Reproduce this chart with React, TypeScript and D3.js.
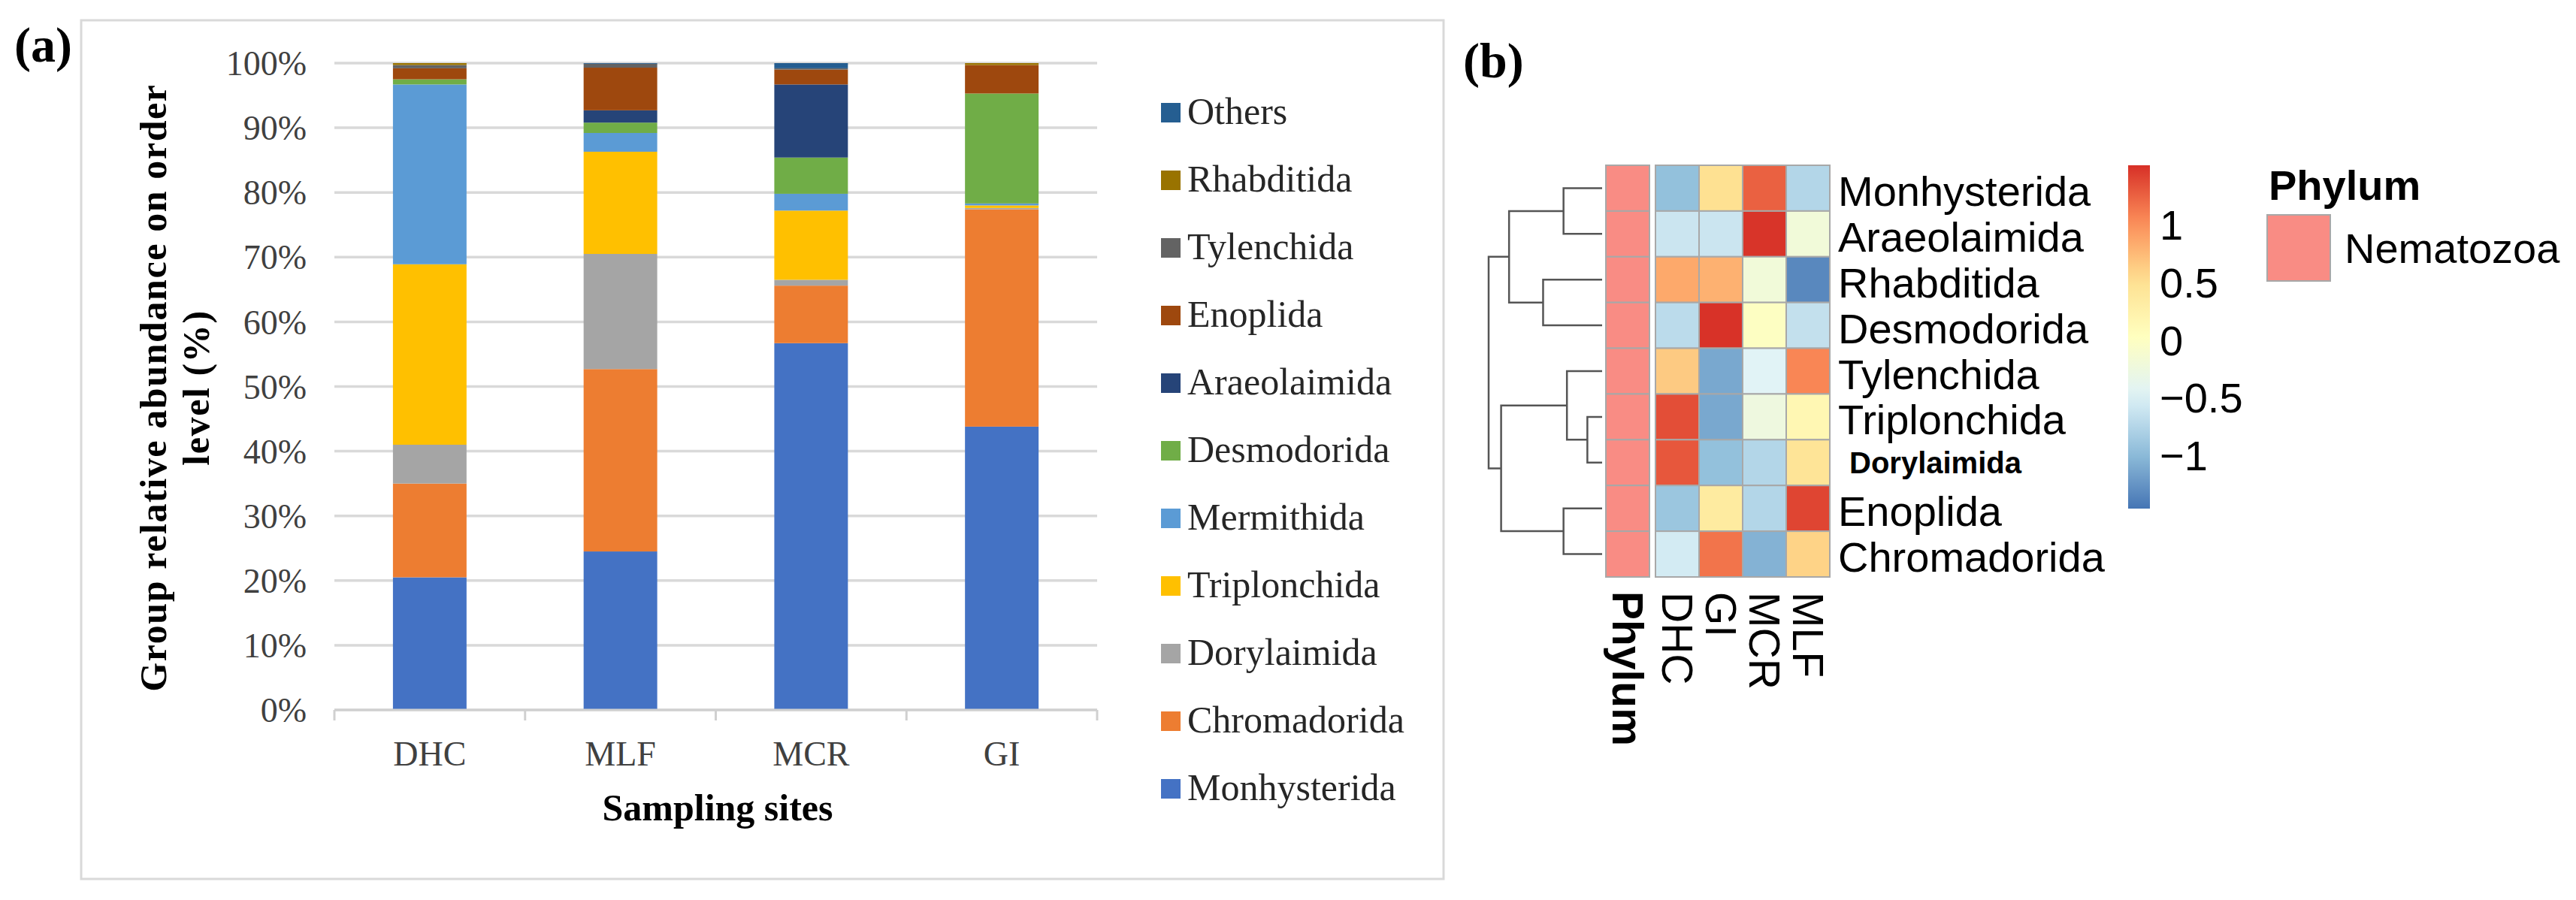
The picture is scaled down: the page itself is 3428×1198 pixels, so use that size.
import React from 'react';
import * as d3 from 'd3';

// ---- panel (a): relative abundance per sampling site (%) ----
const sites = ['DHC', 'MLF', 'MCR', 'GI'];
// stacking order, bottom to top
const orders = [
  'Monhysterida', 'Chromadorida', 'Dorylaimida', 'Triplonchida', 'Mermithida',
  'Desmodorida', 'Araeolaimida', 'Enoplida', 'Tylenchida', 'Rhabditida', 'Others'
];
const orderColors = [
  '#4472C4', '#ED7D31', '#A5A5A5', '#FFC000', '#5B9BD5',
  '#70AD47', '#264478', '#9E480E', '#636363', '#997300', '#255E91'
];
const dhcValues = [20.5, 14.5, 6.0, 27.9, 27.8, 0.8, 0, 1.7, 0.5, 0.3, 0];
const mlfValues = [24.5, 28.2, 17.8, 15.8, 2.9, 1.6, 1.9, 6.6, 0.6, 0, 0.1];
const mcrValues = [56.7, 8.9, 0.9, 10.7, 2.6, 5.6, 11.3, 2.3, 0.2, 0, 0.8];
const giValues = [43.8, 33.6, 0.2, 0.4, 0.3, 17.0, 0, 4.4, 0, 0.3, 0];
const percentTicks = [0, 10, 20, 30, 40, 50, 60, 70, 80, 90, 100];

// ---- panel (b): row-scaled heatmap ----
const heatRows = [
  'Monhysterida', 'Araeolaimida', 'Rhabditida', 'Desmodorida', 'Tylenchida',
  'Triplonchida', 'Dorylaimida', 'Enoplida', 'Chromadorida'
];
const heatCols = ['DHC', 'GI', 'MCR', 'MLF'];
const zDHC = [-0.95, -0.6, 0.85, -0.7, 0.65, 1.35, 1.3, -0.9, -0.55];
const zGI = [0.5, -0.6, 0.8, 1.5, -1.12, -1.12, -0.95, 0.35, 1.15];
const zMCR = [1.25, 1.49, -0.2, 0.0, -0.45, -0.25, -0.75, -0.75, -1.05];
const zMLF = [-0.75, -0.2, -1.33, -0.65, 1.05, 0.15, 0.45, 1.4, 0.6];
const keyDomain = [-1.46, 1.51];
const legendTicks = [-1, -0.5, 0, 0.5, 1];
// hclust-style merges: negative = leaf (1-based row), positive = earlier merge
const mergePairs = [[-6, -7], [-5, 1], [-1, -2], [-8, -9], [-3, -4], [3, 5], [2, 4], [6, 7]];
const mergeHeights = [0.13, 0.31, 0.34, 0.34, 0.52, 0.82, 0.89, 1.0];
const palette = ['#4575B4', '#91BFDB', '#E0F3F8', '#FFFFBF', '#FEE090', '#FC8D59', '#D73027'];
const phylumName = 'Nematozoa';
const phylumColor = '#F98C84';

const SERIF = '"Liberation Serif", "Times New Roman", serif';
const SANS = '"Liberation Sans", Arial, sans-serif';

const W = 3428;
const H = 1198;

const StackedBars: React.FC = () => {
  const siteValues = [dhcValues, mlfValues, mcrValues, giValues];
  const rows = sites.map((s, i) => {
    const r: any = { site: s };
    orders.forEach((o, j) => { r[o] = siteValues[i][j]; });
    return r;
  });
  const series = d3.stack<any>().keys(orders)(rows);

  const x = d3.scaleBand().domain(sites).range([445, 1460]).paddingInner(0.614).paddingOuter(0.307);
  const y = d3.scaleLinear().domain([0, 100]).range([945, 84]);
  const step = x.step();
  const color = d3.scaleOrdinal<string, string>().domain(orders).range(orderColors);

  const legendOrder = orders.slice().reverse();

  return (
    <g>
      {/* chart area border */}
      <rect x={108} y={27} width={1813} height={1143} fill="#fff" stroke="#D9D9D9" strokeWidth={3} />
      <text x={19} y={82} fontFamily={SERIF} fontWeight="bold" fontSize={66}>(a)</text>

      {/* gridlines */}
      {percentTicks.map(t => (
        <line key={t} x1={445} x2={1460} y1={y(t)} y2={y(t)} stroke="#D9D9D9" strokeWidth={3.5} />
      ))}
      {percentTicks.map(t => (
        <text key={'l' + t} x={408} y={y(t)} dy="0.35em" textAnchor="end"
          fontFamily={SERIF} fontSize={46} fill="#404040">{t}%</text>
      ))}

      {/* bars */}
      {series.map(s => (
        <g key={s.key} fill={color(s.key)}>
          {s.map(d => (
            <rect key={d.data.site} x={x(d.data.site)} width={x.bandwidth()}
              y={y(d[1])} height={Math.max(0, y(d[0]) - y(d[1]))} />
          ))}
        </g>
      ))}

      {/* x axis */}
      <line x1={445} x2={1460} y1={y(0)} y2={y(0)} stroke="#D0D0D0" strokeWidth={3} />
      {d3.range(sites.length + 1).map(i => (
        <line key={i} x1={445 + i * step} x2={445 + i * step} y1={y(0)} y2={y(0) + 14}
          stroke="#D0D0D0" strokeWidth={3} />
      ))}
      {sites.map(s => (
        <text key={s} x={(x(s) || 0) + x.bandwidth() / 2} y={1019} textAnchor="middle"
          fontFamily={SERIF} fontSize={46} fill="#404040">{s}</text>
      ))}
      <text x={955} y={1092} textAnchor="middle" fontFamily={SERIF} fontWeight="bold" fontSize={50}>
        Sampling sites
      </text>

      {/* y title */}
      <text transform="translate(221,516) rotate(-90)" textAnchor="middle" fontFamily={SERIF}
        fontWeight="bold" fontSize={50} letterSpacing={1.6}>
        Group relative abundance on order
      </text>
      <text transform="translate(278,516) rotate(-90)" textAnchor="middle" fontFamily={SERIF}
        fontWeight="bold" fontSize={50} letterSpacing={1.6}>
        level (%)
      </text>

      {/* legend */}
      {legendOrder.map((o, i) => (
        <g key={o} transform={`translate(1545, ${150 + i * 90})`}>
          <rect x={0} y={-13} width={26} height={26} fill={color(o)} />
          <text x={35} y={15} fontFamily={SERIF} fontSize={50} fill="#262626">{o}</text>
        </g>
      ))}
    </g>
  );
};

const Heatmap: React.FC = () => {
  const colValues = [zDHC, zGI, zMCR, zMLF];
  const cells = heatRows.flatMap((r, i) => heatCols.map((c, j) => ({ row: r, col: c, v: colValues[j][i] })));
  const ext = keyDomain as [number, number];
  const color = d3.scaleLinear<string>()
    .domain(d3.range(palette.length).map(i => ext[0] + (i / (palette.length - 1)) * (ext[1] - ext[0])))
    .range(palette)
    .interpolate(d3.interpolateRgb);

  const xCol = d3.scaleBand().domain(heatCols).range([2203, 2435]);
  const yRow = d3.scaleBand().domain(heatRows).range([220, 768]);
  const phylumX = 2137;
  const phylumW = 58;

  // dendrogram
  const xD = d3.scaleLinear().domain([0, 1]).range([2132, 1981]);
  const nodeY: number[] = [];
  const nodeH: number[] = [];
  const yOf = (k: number) => (k < 0 ? (yRow(heatRows[-k - 1]) || 0) + yRow.bandwidth() / 2 : nodeY[k - 1]);
  const hOf = (k: number) => (k < 0 ? 0 : nodeH[k - 1]);
  const dendroPaths = mergePairs.map(([a, b], m) => {
    const h = mergeHeights[m];
    const ya = yOf(a);
    const yb = yOf(b);
    nodeY[m] = (ya + yb) / 2;
    nodeH[m] = h;
    const p = d3.path();
    p.moveTo(xD(hOf(a)), ya);
    p.lineTo(xD(h), ya);
    p.lineTo(xD(h), yb);
    p.lineTo(xD(hOf(b)), yb);
    return p.toString();
  });

  // colour key
  const yKey = d3.scaleLinear().domain(ext).range([677, 220]);
  const fmt = d3.format('');
  const gradStops = d3.range(0, 1.0001, 0.05);

  return (
    <g>
      <text x={1947} y={103} fontFamily={SERIF} fontWeight="bold" fontSize={66}>(b)</text>

      <g fill="none" stroke="#555" strokeWidth={2.5}>
        {dendroPaths.map((d, i) => <path key={i} d={d} />)}
      </g>

      {/* annotation column */}
      {heatRows.map(r => (
        <rect key={'p' + r} x={phylumX} y={yRow(r)} width={phylumW} height={yRow.bandwidth()}
          fill={phylumColor} stroke="#A8A8A8" strokeWidth={2} />
      ))}

      {cells.map(d => (
        <rect key={d.row + d.col} x={xCol(d.col)} y={yRow(d.row)} width={xCol.bandwidth()}
          height={yRow.bandwidth()} fill={color(d.v)} stroke="#A8A8A8" strokeWidth={2} />
      ))}

      {/* row labels */}
      {heatRows.map(r => {
        const cy = (yRow(r) || 0) + yRow.bandwidth() / 2;
        return r === 'Dorylaimida' ? (
          <text key={'r' + r} x={2461} y={cy} dy="0.36em" fontFamily={SANS} fontWeight="bold" fontSize={40}>{r}</text>
        ) : (
          <text key={'r' + r} x={2446} y={cy} dy="0.42em" fontFamily={SANS} fontSize={56}>{r}</text>
        );
      })}

      {/* column labels */}
      <text transform={`translate(${phylumX + phylumW / 2},787) rotate(90)`} dy="0.35em"
        fontFamily={SANS} fontWeight="bold" fontSize={57}>Phylum</text>
      {heatCols.map(c => (
        <text key={'c' + c} transform={`translate(${(xCol(c) || 0) + xCol.bandwidth() / 2},788) rotate(90)`}
          dy="0.35em" fontFamily={SANS} fontSize={57}>{c}</text>
      ))}

      {/* colour key */}
      <defs>
        <linearGradient id="heatKey" x1="0" y1="1" x2="0" y2="0">
          {gradStops.map(t => (
            <stop key={t} offset={t} stopColor={color(ext[0] + t * (ext[1] - ext[0]))} />
          ))}
        </linearGradient>
      </defs>
      <rect x={2832} y={220} width={29} height={457} fill="url(#heatKey)" />
      {legendTicks.map(t => (
        <text key={'k' + t} x={2874} y={yKey(t)} dy="0.36em" fontFamily={SANS} fontSize={56}>{fmt(t)}</text>
      ))}

      {/* annotation legend */}
      <text x={3019} y={266} fontFamily={SANS} fontWeight="bold" fontSize={56}>Phylum</text>
      <rect x={3017} y={286} width={84} height={88} fill={phylumColor} stroke="#A8A8A8" strokeWidth={2} />
      <text x={3120} y={350} fontFamily={SANS} fontSize={56}>{phylumName}</text>
    </g>
  );
};

const App: React.FC = () => (
  <svg width={W} height={H} viewBox={`0 0 ${W} ${H}`}
    style={{ position: 'absolute', left: 0, top: 0, display: 'block', background: '#fff' }}>
    <rect width={W} height={H} fill="#fff" />
    <StackedBars />
    <Heatmap />
  </svg>
);

export default App;
